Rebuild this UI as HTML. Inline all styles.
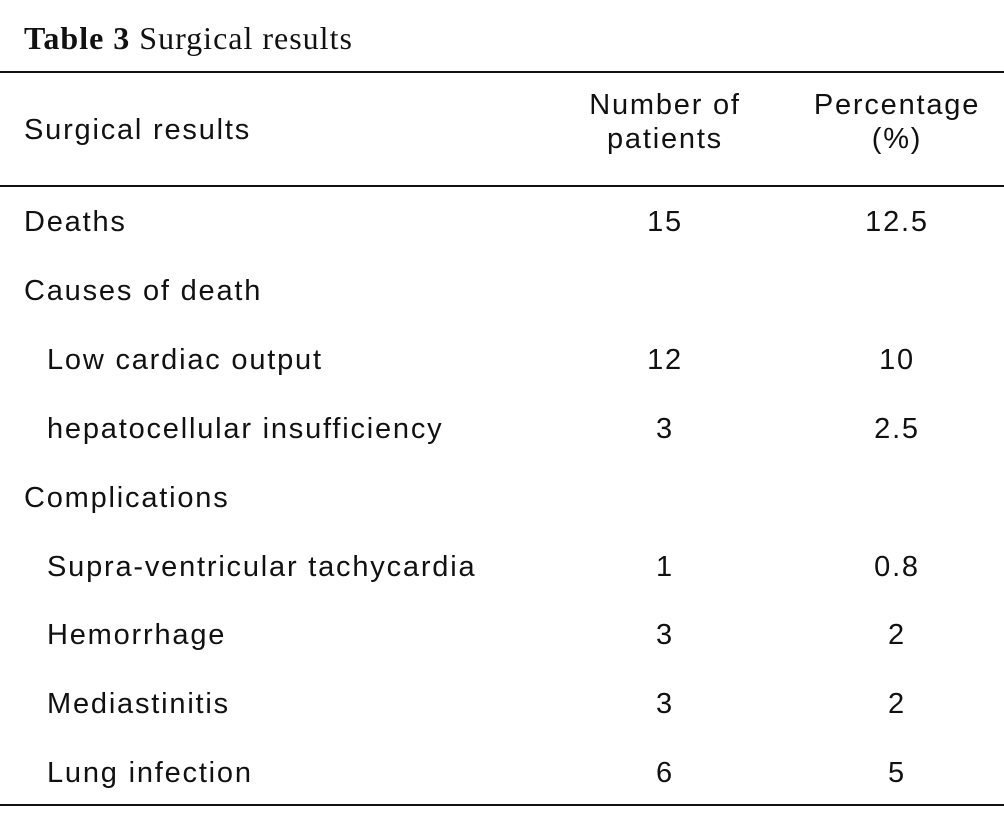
<!DOCTYPE html>
<html><head><meta charset="utf-8"><style>
body{margin:0;background:#fff;}
#t{position:relative;width:1004px;height:825px;overflow:hidden;font-family:"Liberation Sans",sans-serif;color:#111;}
.r{position:absolute;left:0;width:1004px;background:#111;}
.tx{position:absolute;font-size:29px;line-height:34px;white-space:nowrap;letter-spacing:1.8px;}
.c1{width:240px;margin-left:-120px;text-align:center;}
</style></head><body>
<div id="t">
<div class="tx" style="left:24px;top:21px;font-family:'Liberation Serif',serif;font-size:32px;letter-spacing:1px;"><b>Table 3</b> Surgical results</div>
<div class="r" style="top:71px;height:2px"></div>
<div class="tx" style="left:24px;top:113px">Surgical results</div>
<div class="tx c1" style="left:665px;top:88px">Number of<br>patients</div>
<div class="tx c1" style="left:897px;top:88px">Percentage<br>(%)</div>
<div class="r" style="top:185px;height:2px"></div>
<div class="r" style="top:804px;height:2px"></div>
</div>
<script>
const labels=["Deaths","Causes of death","Low cardiac output","hepatocellular insufficiency","Complications","Supra-ventricular tachycardia","Hemorrhage","Mediastinitis","Lung infection"];
const indent=[0,0,1,1,0,1,1,1,1];
const counts=["15","","12","3","","1","3","3","6"];
const pcts=["12.5","","10","2.5","","0.8","2","2","5"];
const host=document.getElementById('t');
labels.forEach((l,i)=>{
  const top=205+i*68.9;
  const a=document.createElement('div');a.className='tx';a.style.left=(indent[i]?47:24)+'px';a.style.top=top+'px';a.textContent=l;
  
  
  host.appendChild(a);
  const b=document.createElement('div');b.className='tx c1';b.style.left='665px';b.style.top=top+'px';b.textContent=counts[i];
  
  
  host.appendChild(b);
  const c=document.createElement('div');c.className='tx c1';c.style.left='897px';c.style.top=top+'px';c.textContent=pcts[i];
  
  
  host.appendChild(c);
});
</script>
</body></html>
